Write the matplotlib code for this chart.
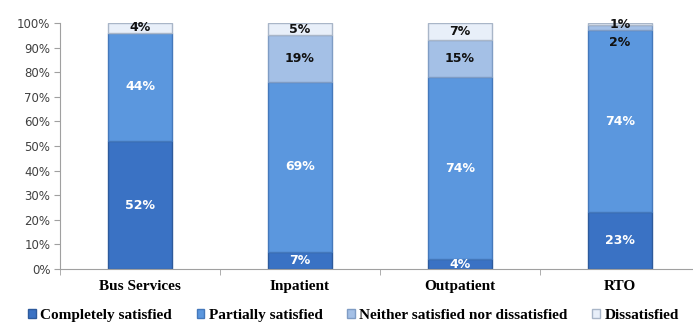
import matplotlib.pyplot as plt
from matplotlib.patches import Patch
import numpy as np

# data
categories = ['Bus Services', 'Inpatient', 'Outpatient', 'RTO']
series_names = ['Completely satisfied', 'Partially satisfied',
                'Neither satisfied nor dissatisfied', 'Dissatisfied']
completely = [52, 7, 4, 23]
partially = [44, 69, 74, 74]
neither = [0, 19, 15, 2]
dissatisfied = [4, 5, 7, 1]

colors = ['#3a72c4', '#5b97de', '#a4c0e6', '#e8eff9']
edges = ['#2d5a9c', '#4478bb', '#7f9cc4', '#a9b6c8']
text_colors = ['white', 'white', '#111111', '#111111']

fig = plt.figure(figsize=(6.93, 3.25), dpi=100)
# axes spans past the right edge just like the original export
ax = fig.add_axes([60 / 693, 56 / 325, 640 / 693, 246 / 325])

x = np.arange(len(categories))
bottom = np.zeros(len(categories))
series = [completely, partially, neither, dissatisfied]
for k, (vals, col, ec, tc) in enumerate(zip(series, colors, edges, text_colors)):
    vals = np.array(vals, dtype=float)
    ax.bar(x, vals, 0.4, bottom=bottom, color=col, edgecolor=ec, linewidth=1.0)
    for i, v in enumerate(vals):
        if v <= 0:
            continue
        y = bottom[i] + v / 2
        # tiny stacked slices: Excel nudged the lower label down to avoid overlap
        if v < 3 and k < len(series) - 1:
            y -= 6
        ax.text(x[i], y, f'{int(v)}%', ha='center', va='center', color=tc,
                fontsize=9, fontweight='bold', family='DejaVu Sans')
    bottom += vals

ax.set_xlim(-0.5, 3.5)
ax.set_ylim(0, 100)
ax.set_yticks(np.arange(0, 101, 10))
ax.set_yticklabels([f'{v}%' for v in range(0, 101, 10)], color='#404040', fontsize=8.5)
ax.set_xticks(x)
ax.set_xticklabels(categories, family='Liberation Serif', fontweight='bold', fontsize=11)
ax.tick_params(axis='x', length=0, pad=8)
ax.set_xticks(np.arange(-0.5, 3.6, 1), minor=True)
ax.tick_params(axis='x', which='minor', length=4, color='#a0a0a0')
ax.tick_params(axis='y', length=4, color='#a0a0a0', pad=3)
for s in ['top', 'right']:
    ax.spines[s].set_visible(False)
for s in ['left', 'bottom']:
    ax.spines[s].set_color('#a0a0a0')

handles = [Patch(facecolor=c, edgecolor=e) for c, e in zip(colors, edges)]
fig.legend(handles, series_names, loc='center', bbox_to_anchor=(0.51, 0.03),
           ncol=4, frameon=False, handlelength=0.5, handleheight=0.5,
           handletextpad=0.3, columnspacing=1.6, borderpad=0,
           prop={'family': 'Liberation Serif', 'weight': 'bold', 'size': 11})

fig.savefig('out.png', dpi=100)
